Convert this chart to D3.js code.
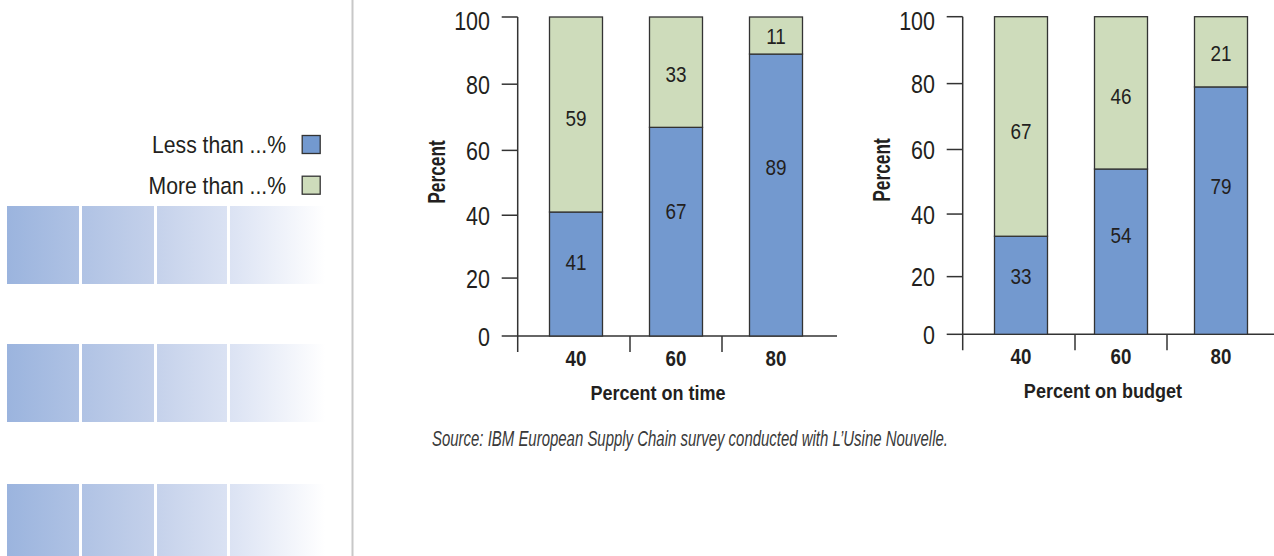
<!DOCTYPE html>
<html><head><meta charset="utf-8">
<script src="https://cdn.jsdelivr.net/npm/d3@7"></script>
<style>
html,body{margin:0;padding:0;background:#fff;}
svg{display:block;}
text{font-family:"Liberation Sans",Arial,Helvetica,sans-serif;fill:#231f20;}
</style></head>
<body><svg id="c" width="1274" height="556"></svg>
<script>
// ---- data ----
const categories = ["40", "60", "80"];
const onTimeLess = [41, 67, 89];
const onTimeMore = [59, 33, 11];
const onBudgetLess = [33, 54, 79];
const onBudgetMore = [67, 46, 21];
const yTicks = [0, 20, 40, 60, 80, 100];
const legendLabels = ["Less than ...%", "More than ...%"];
const xTitles = ["Percent on time", "Percent on budget"];
const yTitle = "Percent";
const sourceText = "Source: IBM European Supply Chain survey conducted with L\u2019Usine Nouvelle.";

const BLUE = "#7399cf", GREEN = "#cedcbb", AX = "#333";
const svg = d3.select("#c");

// condensed text helper (horizontal squeeze of Liberation Sans)
function txt(parent, x, y, s, o){
  const t = parent.append("text")
    .attr("transform", `translate(${x},${y}) ${o.rot ? "rotate(-90) " : ""}scale(${o.sx||1},1)`)
    .attr("text-anchor", o.anchor || "start")
    .style("font-size", o.size + "px")
    .text(s);
  if (o.bold) t.style("font-weight", "bold");
  if (o.italic) t.style("font-style", "italic");
  if (o.fill) t.style("fill", o.fill);
  return t;
}

// ---- left decorative panel ----
const defs = svg.append("defs");
const grad = defs.append("linearGradient").attr("id","fade")
  .attr("gradientUnits","userSpaceOnUse").attr("x1",7).attr("x2",325).attr("y1",0).attr("y2",0);
grad.append("stop").attr("offset",0).attr("stop-color","#9bb4de");
grad.append("stop").attr("offset",0.45).attr("stop-color","#c3d0ea");
grad.append("stop").attr("offset",0.72).attr("stop-color","#dde4f4");
grad.append("stop").attr("offset",1).attr("stop-color","#ffffff");
const blockCols = [[7,79],[82,154],[157,227],[230,325]];
const blockRows = [[206,284],[344,422],[484,556]];
blockRows.forEach(r => blockCols.forEach(c => {
  svg.append("rect").attr("x",c[0]).attr("y",r[0]).attr("width",c[1]-c[0]).attr("height",r[1]-r[0]).attr("fill","url(#fade)");
}));
svg.append("line").attr("x1",352.5).attr("x2",352.5).attr("y1",0).attr("y2",556)
  .attr("stroke","#c8c8c8").attr("stroke-width",2);

// legend
const legColors = [BLUE, GREEN];
legendLabels.forEach((t,i) => {
  const yb = 153.3 + i*40.7;
  txt(svg, 286, yb, t, {size:23.5, sx:0.9, anchor:"end"});
  svg.append("rect").attr("x",302.2).attr("y",yb-17.8).attr("width",18).attr("height",18)
    .attr("fill",legColors[i]).attr("stroke",AX).attr("stroke-width",1.3);
});

// ---- charts ----
function drawChart(cfg){
  const g = svg.append("g");
  const y = d3.scalePow().exponent(1.06).domain([0,100]).range([cfg.y0, cfg.y100]);
  const x = d3.scalePoint().domain(categories).range([cfg.c0, cfg.c1]);
  const bw = 53;
  const step = x.step();
  g.append("line").attr("x1",cfg.ax).attr("x2",cfg.ax).attr("y1",y(100)).attr("y2",cfg.y0+16)
    .attr("stroke",AX).attr("stroke-width",1.5);
  g.append("line").attr("x1",cfg.ax).attr("x2",cfg.xEnd).attr("y1",cfg.y0).attr("y2",cfg.y0)
    .attr("stroke",AX).attr("stroke-width",1.5);
  yTicks.forEach(v => {
    g.append("line").attr("x1",cfg.ax-16).attr("x2",cfg.ax).attr("y1",y(v)).attr("y2",y(v))
      .attr("stroke",AX).attr("stroke-width",1.5);
    const yy = y(v) + (v === 100 ? 4.5 : 0.8);
    txt(g, cfg.ax-27.7, yy + 0.358*25, v, {size:25, sx:0.86, anchor:"end"});
  });
  const mid = x(categories[1]);
  [-0.46, 0.46].forEach(f => {
    g.append("line").attr("x1",mid+f*step).attr("x2",mid+f*step).attr("y1",cfg.y0).attr("y2",cfg.y0+16)
      .attr("stroke",AX).attr("stroke-width",1.5);
  });
  categories.forEach((c,i) => {
    const lo = cfg.less[i], hi = cfg.more[i];
    const cx = x(c);
    g.append("rect").attr("x",cx-bw/2).attr("y",y(lo)).attr("width",bw).attr("height",y(0)-y(lo))
      .attr("fill",BLUE).attr("stroke",AX).attr("stroke-width",1.3);
    g.append("rect").attr("x",cx-bw/2).attr("y",y(lo+hi)).attr("width",bw).attr("height",y(lo)-y(lo+hi))
      .attr("fill",GREEN).attr("stroke",AX).attr("stroke-width",1.3);
    const yl = y(lo) + 0.40*(y(0)-y(lo));
    const yh = y(lo+hi) + 0.52*(y(lo)-y(lo+hi));
    txt(g, cx, yl + 0.358*22.5, lo, {size:22.5, sx:0.84, anchor:"middle"});
    txt(g, cx, yh + 0.358*22.5, hi, {size:22.5, sx:0.84, anchor:"middle"});
    txt(g, cx, cfg.y0 + 29.7, c, {size:21.5, sx:0.87, anchor:"middle", bold:true});
  });
  txt(g, mid - 18, cfg.y0 + 64, cfg.title, {size:20.5, sx:0.88, anchor:"middle", bold:true});
  txt(g, cfg.ax - 72.7, cfg.yTitle, yTitle, {size:24, sx:0.72, anchor:"middle", bold:true, rot:true});
}
drawChart({ax:517.7, y0:336, y100:17, c0:576, c1:776, xEnd:837, yTitle:172, less:onTimeLess, more:onTimeMore, title:xTitles[0]});
drawChart({ax:962.7, y0:334.3, y100:16.7, c0:1021, c1:1221, xEnd:1274, yTitle:170, less:onBudgetLess, more:onBudgetMore, title:xTitles[1]});

txt(svg, 432, 445.7, sourceText, {size:22, sx:0.68, italic:true, fill:"#3a3a3a"});
</script></body></html>
